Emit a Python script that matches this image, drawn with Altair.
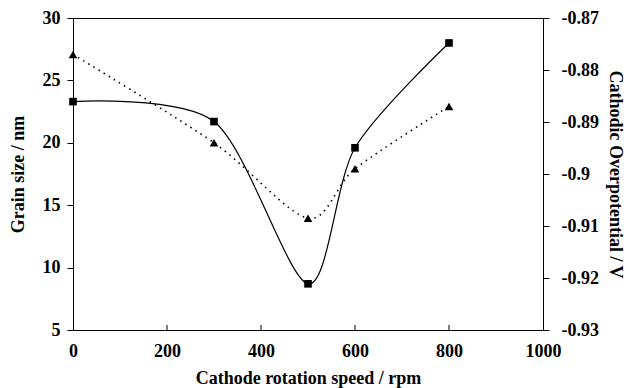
import altair as alt
import pandas as pd

# ---- data ----
speed = [0, 300, 500, 600, 800]
grain_size = [23.3, 21.7, 8.7, 19.6, 28.0]
overpotential = [-0.877, -0.894, -0.9085, -0.899, -0.887]
x_ticks = [0, 200, 400, 600, 800, 1000]
left_ticks = [5, 10, 15, 20, 25, 30]
right_ticks = [-0.93, -0.92, -0.91, -0.90, -0.89, -0.88, -0.87]

df = pd.DataFrame({"speed": speed, "grain": grain_size, "pot": overpotential})
tick_df = pd.DataFrame({"speed": x_ticks[1:-1]})

W, H = 470, 312
FONT = "Liberation Serif"
LBL = 18
TTL = 18

xscale = alt.Scale(domain=[0, 1000], nice=False, zero=False)
yl_scale = alt.Scale(domain=[5, 30], nice=False, zero=False)
yr_scale = alt.Scale(domain=[-0.93, -0.87], nice=False, zero=False)

x_axis = alt.Axis(
    values=x_ticks,
    title="Cathode rotation speed / rpm",
    ticks=False,
    tickSize=0,
    labelPadding=12,
    titlePadding=9,
    labelFlush=False,
    format="d",
)
yl_axis = alt.Axis(
    values=left_ticks,
    orient="left",
    title="Grain size / nm",
    tickSize=6,
    labelPadding=7,
    titlePadding=15,
    labelFlush=False,
    format="d",
)
yr_axis = alt.Axis(
    values=right_ticks,
    orient="right",
    title="Cathodic Overpotential / V",
    tickSize=6,
    labelPadding=12,
    titlePadding=7,
    labelFlush=False,
    labelExpr="replace(format(datum.value, '.2~f'), '\u2212', '-')",
)

x_enc = alt.X("speed:Q", scale=xscale, axis=x_axis)
yl_enc = alt.Y("grain:Q", scale=yl_scale, axis=yl_axis)
yr_enc = alt.Y("pot:Q", scale=yr_scale, axis=yr_axis)

sq_line = alt.Chart(df).mark_line(
    interpolate="cardinal", tension=0.15, color="black", strokeWidth=1.2
).encode(x=x_enc, y=yl_enc)

sq_pts = alt.Chart(df).mark_point(
    shape="square", filled=True, color="black", size=58, opacity=1
).encode(x=x_enc, y=yl_enc)

x_tick_rules = alt.Chart(tick_df).mark_rule(color="black", strokeWidth=1).encode(
    x=x_enc,
    y=alt.value(H),
    y2=alt.value(H - 5),
)

tri_line = alt.Chart(df).mark_line(
    interpolate="cardinal", tension=0.15, color="black", strokeWidth=1.6,
    strokeDash=[1.5, 4.5]
).encode(x=x_enc, y=yr_enc)

tri_pts = alt.Chart(df).mark_point(
    shape="triangle-up", filled=True, color="black", size=75, opacity=1
).encode(x=x_enc, y=yr_enc)

left = alt.layer(sq_line, sq_pts, x_tick_rules)
right = alt.layer(tri_line, tri_pts)

chart = (
    alt.layer(left, right)
    .resolve_scale(y="independent")
    .properties(
        width=W,
        height=H,
        autosize=alt.AutoSizeParams(type="none"),
        padding={"left": 73, "top": 18, "right": 90, "bottom": 58},
        background="white",
    )
    .configure_view(stroke="black", strokeWidth=1)
    .configure_axis(
        grid=False,
        domainColor="black",
        domainWidth=1,
        tickColor="black",
        labelColor="black",
        titleColor="black",
        labelFont=FONT,
        titleFont=FONT,
        labelFontSize=LBL,
        titleFontSize=TTL,
        labelFontWeight="bold",
        titleFontWeight="bold",
    )
)

chart.save("out.html", embed_options={"renderer": "svg", "actions": False})
